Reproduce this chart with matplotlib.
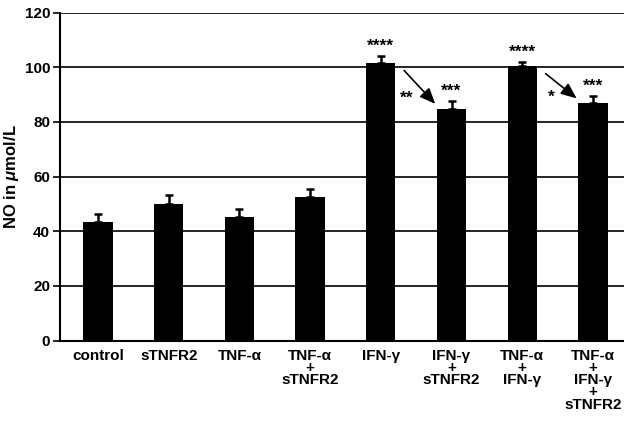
import matplotlib
matplotlib.use("Agg")
import matplotlib.pyplot as plt
import numpy as np

plt.rcParams['font.family'] = ['Liberation Sans', 'DejaVu Sans']
plt.rcParams['font.weight'] = 'bold'
plt.rcParams['mathtext.fontset'] = 'custom'
plt.rcParams['mathtext.it'] = 'Liberation Sans:italic:bold'
plt.rcParams['mathtext.rm'] = 'Liberation Sans:bold'

categories = ["control", "sTNFR2", "TNF-α", "TNF-α\n+\nsTNFR2", "IFN-γ",
              "IFN-γ\n+\nsTNFR2", "TNF-α\n+\nIFN-γ", "TNF-α\n+\nIFN-γ\n+\nsTNFR2"]
values = [43.3, 50.1, 45.1, 52.5, 101.6, 84.9, 100.5, 86.9]
errors = [3.2, 3.3, 3.1, 3.0, 2.5, 2.7, 1.6, 2.6]
signif = ["", "", "", "", "****", "***", "****", "***"]
yticks = [0, 20, 40, 60, 80, 100, 120]

# comparison arrows: (from bar, to bar, label)
comparisons = [(4, 5, "**"), (6, 7, "*")]

fig = plt.figure(figsize=(6.24, 4.22), dpi=100)
ax = fig.add_axes([0.096, 0.1927, 0.904, 0.7775])

x = np.arange(len(categories))
ax.set_axisbelow(True)
ax.yaxis.grid(True, color='black', linewidth=1.2)
ax.bar(x, values, width=0.415, color='black', zorder=3)
ax.errorbar(x, values, yerr=[np.zeros(len(errors)), errors], fmt='none',
            ecolor='black', elinewidth=1.8, capsize=2.8, capthick=1.8, zorder=4)

for xi, v, e, s in zip(x, values, errors, signif):
    if s:
        ax.text(xi, v + e + 0.8, s, ha='center', va='bottom', fontsize=12.5,
                fontweight='bold')

for a, b, lab in comparisons:
    ax.annotate("", xy=(b - 0.23, values[b] + 1.7), xytext=(a + 0.33, values[a] - 2.8),
                arrowprops=dict(arrowstyle='-|>,head_length=0.95,head_width=0.4',
                                color='black', lw=1.2, shrinkA=0, shrinkB=0), zorder=5)
    ax.text(a + 0.37 if len(lab) > 1 else a + 0.41, (values[a] + values[b]) / 2 - 4.5, lab,
            ha='center', va='center', fontsize=12.5, fontweight='bold')

ax.set_xlim(-0.54, 7.44)
ax.set_ylim(0, 120)
ax.set_yticks(yticks)
ax.set_yticklabels([str(t) for t in yticks], fontsize=11, fontweight='bold')
ax.set_xticks(x)
ax.set_xticklabels(categories, fontsize=11, fontweight='bold', linespacing=0.83, va='top')
ax.tick_params(axis='x', length=0, pad=6)
ax.tick_params(axis='y', length=5, width=1.2, direction='out', pad=2)
for s in ['top', 'right']:
    ax.spines[s].set_visible(False)
for s in ['left', 'bottom']:
    ax.spines[s].set_linewidth(1.5)
ax.set_ylabel(r"NO in $\mu$mol/L", fontsize=12, fontweight='bold', labelpad=3)

fig.savefig("out.png", dpi=100)
